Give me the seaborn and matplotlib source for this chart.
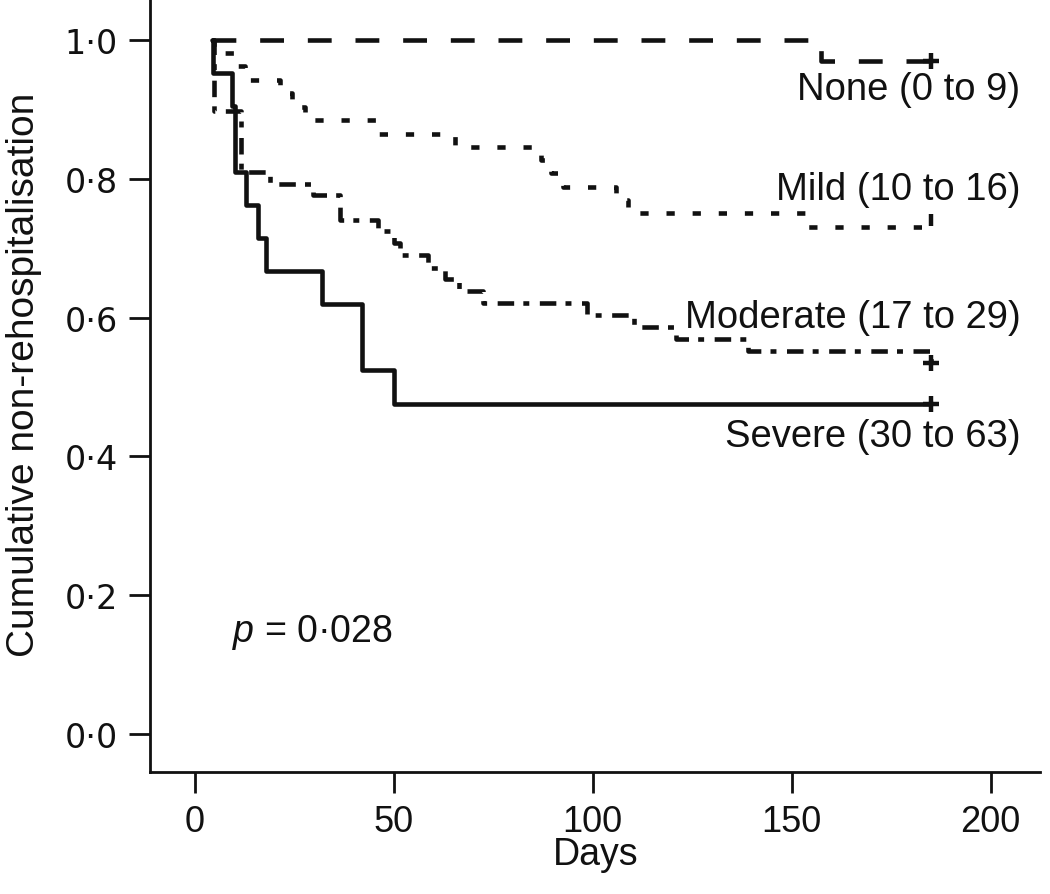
import numpy as np
import pandas as pd
import matplotlib
matplotlib.use('Agg')
import matplotlib.pyplot as plt
import seaborn as sns

# Kaplan-Meier step values (day, cumulative non-rehospitalisation)
groups = ['None', 'Mild', 'Moderate', 'Severe']
group_labels = ['None (0 to 9)', 'Mild (10 to 16)', 'Moderate (17 to 29)', 'Severe (30 to 63)']

none_days = [4.5, 157.5, 185]
none_surv = [1.0, 0.970, 0.970]

mild_days = [4.5, 4.8, 10.5, 12.7, 21.5, 24.5, 27.8, 45.5, 65.5, 87.0, 89.5, 92.5,
             106.0, 109.0, 153.5, 185]
mild_surv = [1.0, 0.981, 0.962, 0.942, 0.923, 0.904, 0.885, 0.865, 0.846, 0.827,
             0.808, 0.788, 0.769, 0.750, 0.731, 0.731]

moderate_days = [4.5, 5.0, 11.7, 19.0, 29.8, 36.5, 46.0, 50.0, 51.6, 58.7, 63.0,
                 66.5, 72.5, 98.6, 110.5, 121.0, 139.0, 185, 185]
moderate_surv = [1.0, 0.897, 0.810, 0.793, 0.776, 0.741, 0.724, 0.707, 0.690, 0.672,
                 0.655, 0.638, 0.621, 0.603, 0.586, 0.569, 0.552, 0.552, 0.535]

severe_days = [4.5, 4.6, 9.4, 10.2, 13.0, 16.0, 18.0, 32.0, 42.0, 50.0, 185]
severe_surv = [1.0, 0.952, 0.905, 0.810, 0.762, 0.714, 0.667, 0.619, 0.524, 0.476, 0.476]

# censored observations shown at the end of follow-up
censor_days = [185, 185, 185, 185]
censor_surv = [0.970, 0.731, 0.535, 0.476]

y_ticks = [0.0, 0.2, 0.4, 0.6, 0.8, 1.0]
y_tick_labels = ['0·0', '0·2', '0·4', '0·6', '0·8', '1·0']
x_ticks = [0, 50, 100, 150, 200]

label_pos_y = [0.929, 0.785, 0.601, 0.429]

frames = []
for g, d, s in zip(groups,
                   [none_days, mild_days, moderate_days, severe_days],
                   [none_surv, mild_surv, moderate_surv, severe_surv]):
    frames.append(pd.DataFrame({'day': d, 'surv': s, 'group': g}))
df = pd.concat(frames, ignore_index=True)

sns.set_style('ticks')
plt.rcParams['font.family'] = ['Liberation Sans', 'DejaVu Sans']
plt.rcParams['mathtext.fontset'] = 'custom'
plt.rcParams['mathtext.it'] = 'Liberation Sans:italic'
plt.rcParams['mathtext.rm'] = 'Liberation Sans'

fig = plt.figure(figsize=(10.5, 8.95), dpi=100)
ax = fig.add_axes([150 / 1050, 1 - 773 / 895, 890 / 1050, 773 / 895])

dash_map = {'None': (5.2, 5.2), 'Mild': (1.8, 3.9),
            'Moderate': (3.6, 2.0, 1.3, 2.3), 'Severe': ''}
sns.lineplot(data=df, x='day', y='surv', hue='group', style='group',
             palette=['#111111'] * 4, dashes=dash_map, estimator=None, sort=False,
             drawstyle='steps-post', linewidth=3.3, legend=False, ax=ax)

ax.plot(censor_days[:1] + censor_days[2:], censor_surv[:1] + censor_surv[2:], '+',
        color='#111111', markersize=11, markeredgewidth=3.2)
ax.plot(censor_days[1:2], [censor_surv[1] + 0.009], '|', color='#111111',
        markersize=8, markeredgewidth=3.2)

for lab, yy in zip(group_labels, label_pos_y):
    ax.text(207.5, yy, lab, ha='right', va='center', fontsize=27.5, color='#111111')

ax.text(9.4, 0.148, r'$p$ = 0·028', ha='left', va='center', fontsize=27, color='#111111')

ax.set_xlim(-11.2, 212.4)
ax.set_ylim(-0.0548, 1.059)
ax.set_xticks(x_ticks)
ax.set_yticks(y_ticks)
ax.set_yticklabels(y_tick_labels, family='DejaVu Sans', fontsize=24)
ax.tick_params(axis='x', labelsize=26)
ax.tick_params(length=15, width=2, color='#111111', labelcolor='#111111', pad=8)

ax.set_xlabel('Days', fontsize=27, color='#111111')
ax.set_ylabel('Cumulative non-rehospitalisation', fontsize=28, color='#111111')
ax.xaxis.set_label_coords(0.501, -0.083)
ax.yaxis.set_label_coords(-0.121, 0.515)

for side in ['left', 'bottom']:
    ax.spines[side].set_linewidth(2)
    ax.spines[side].set_color('#111111')
sns.despine(ax=ax)

fig.savefig('out.png', dpi=100)
